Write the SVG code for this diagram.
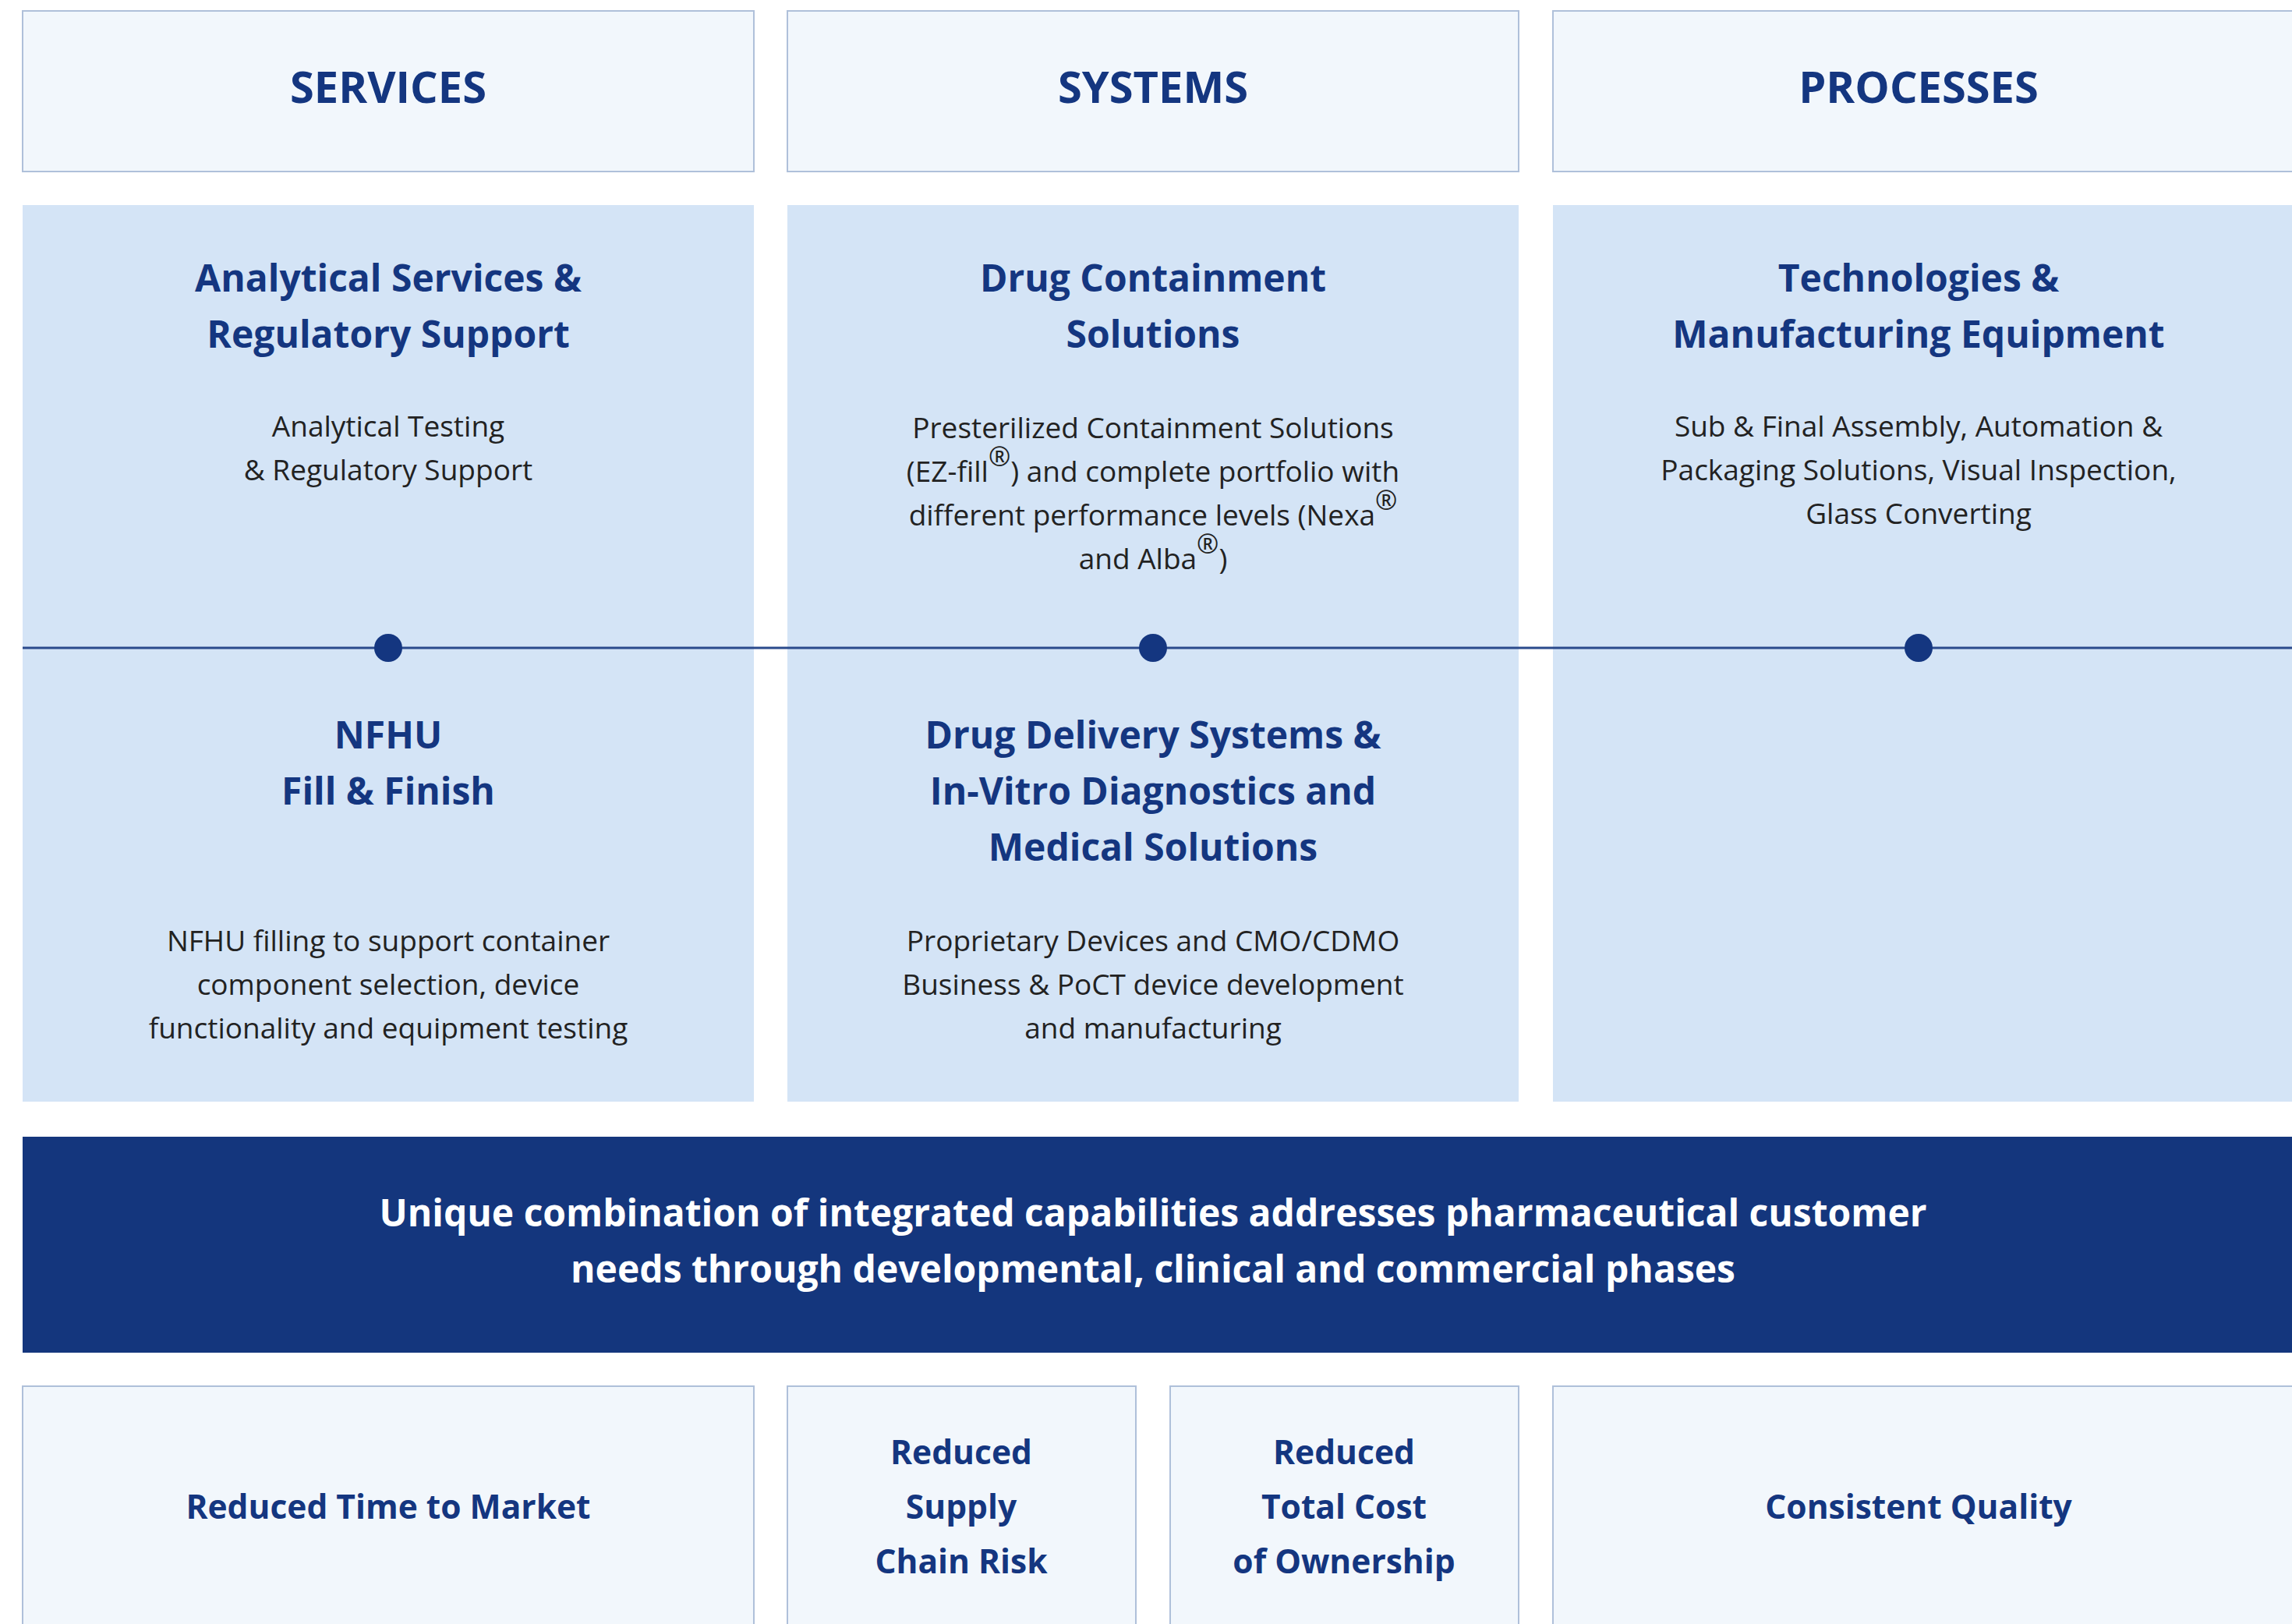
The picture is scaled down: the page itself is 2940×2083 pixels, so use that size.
<svg xmlns="http://www.w3.org/2000/svg" width="2940" height="2083" viewBox="0 0 2940 2083">
<style>
.hdr{fill:#F2F7FC;stroke:#AFC0DA;stroke-width:2}
.cnt{fill:#D4E4F6}
.ben{fill:#F2F7FC;stroke:#AFC0DA;stroke-width:2}
.h{font-family:"Open Sans","Liberation Sans",sans-serif;font-weight:700;font-size:56px;fill:#143680;text-anchor:middle}
.t{font-family:"Open Sans","Liberation Sans",sans-serif;font-weight:700;font-size:48px;fill:#143680;text-anchor:middle}
.b{font-family:"Open Sans","Liberation Sans",sans-serif;font-weight:400;font-size:37px;fill:#222222;text-anchor:middle}
.r{font-size:34px}
.w{font-family:"Open Sans","Liberation Sans",sans-serif;font-weight:700;font-size:48px;fill:#FFFFFF;text-anchor:middle}
.bt{font-family:"Open Sans","Liberation Sans",sans-serif;font-weight:700;font-size:42.5px;fill:#143680;text-anchor:middle}
.dot{fill:#143680}
</style>
<rect width="2940" height="2083" fill="#FFFFFF"/>
<g id="header-services"><rect class="hdr" x="29" y="14" width="938" height="206"/><text class="h" x="498" y="132">SERVICES</text></g>
<g id="header-systems"><rect class="hdr" x="1010" y="14" width="938" height="206"/><text class="h" x="1479" y="132">SYSTEMS</text></g>
<g id="header-processes"><rect class="hdr" x="1992" y="14" width="960" height="206"/><text class="h" x="2461" y="132">PROCESSES</text></g>

<g id="col-services"><rect class="cnt" x="29" y="263" width="938" height="1150"/></g>
<g id="col-systems"><rect class="cnt" x="1010" y="263" width="938" height="1150"/></g>
<g id="col-processes"><rect class="cnt" x="1992" y="263" width="948" height="1150"/></g>

<g id="connectors">
<line x1="29" y1="831" x2="2940" y2="831" stroke="#2A4A8C" stroke-width="3"/>
</g>

<g id="node-analytical">
<text class="t" x="498" y="374">Analytical Services &amp;</text>
<text class="t" x="498" y="446">Regulatory Support</text>
<text class="b" x="498" y="560">Analytical Testing</text>
<text class="b" x="498" y="616">&amp; Regulatory Support</text>
<circle class="dot" cx="498" cy="831" r="18"/>
</g>
<g id="node-containment">
<text class="t" x="1479" y="374">Drug Containment</text>
<text class="t" x="1479" y="446">Solutions</text>
<text class="b" x="1479" y="562">Presterilized Containment Solutions</text>
<text class="b" x="1479" y="618">(EZ-fill<tspan class="r" dy="-20">®</tspan><tspan dy="20">) and complete portfolio with</tspan></text>
<text class="b" x="1479" y="674">different performance levels (Nexa<tspan class="r" dy="-20">®</tspan></text>
<text class="b" x="1479" y="730">and Alba<tspan class="r" dy="-20">®</tspan><tspan dy="20">)</tspan></text>
<circle class="dot" cx="1479" cy="831" r="18"/>
</g>
<g id="node-technologies">
<text class="t" x="2461" y="374">Technologies &amp;</text>
<text class="t" x="2461" y="446">Manufacturing Equipment</text>
<text class="b" x="2461" y="560">Sub &amp; Final Assembly, Automation &amp;</text>
<text class="b" x="2461" y="616">Packaging Solutions, Visual Inspection,</text>
<text class="b" x="2461" y="672">Glass Converting</text>
<circle class="dot" cx="2461" cy="831" r="18"/>
</g>
<g id="node-nfhu">
<text class="t" x="498" y="960">NFHU</text>
<text class="t" x="498" y="1032">Fill &amp; Finish</text>
<text class="b" x="498" y="1220">NFHU filling to support container</text>
<text class="b" x="498" y="1276">component selection, device</text>
<text class="b" x="498" y="1332">functionality and equipment testing</text>
</g>
<g id="node-delivery">
<text class="t" x="1479" y="960">Drug Delivery Systems &amp;</text>
<text class="t" x="1479" y="1032">In-Vitro Diagnostics and</text>
<text class="t" x="1479" y="1104">Medical Solutions</text>
<text class="b" x="1479" y="1220">Proprietary Devices and CMO/CDMO</text>
<text class="b" x="1479" y="1276">Business &amp; PoCT device development</text>
<text class="b" x="1479" y="1332">and manufacturing</text>
</g>

<g id="banner">
<rect x="29" y="1458" width="2911" height="277" fill="#14367D"/>
<text class="w" x="1479" y="1573">Unique combination of integrated capabilities addresses pharmaceutical customer</text>
<text class="w" x="1479" y="1645">needs through developmental, clinical and commercial phases</text>
</g>

<g id="benefit-time"><rect class="ben" x="29" y="1778" width="938" height="330"/><text class="bt" x="498" y="1948">Reduced Time to Market</text></g>
<g id="benefit-supply"><rect class="ben" x="1010" y="1778" width="447" height="330"/>
<text class="bt" x="1233" y="1878">Reduced</text><text class="bt" x="1233" y="1948">Supply</text><text class="bt" x="1233" y="2018">Chain Risk</text></g>
<g id="benefit-cost"><rect class="ben" x="1501" y="1778" width="447" height="330"/>
<text class="bt" x="1724" y="1878">Reduced</text><text class="bt" x="1724" y="1948">Total Cost</text><text class="bt" x="1724" y="2018">of Ownership</text></g>
<g id="benefit-quality"><rect class="ben" x="1992" y="1778" width="960" height="330"/><text class="bt" x="2461" y="1948">Consistent Quality</text></g>
</svg>
